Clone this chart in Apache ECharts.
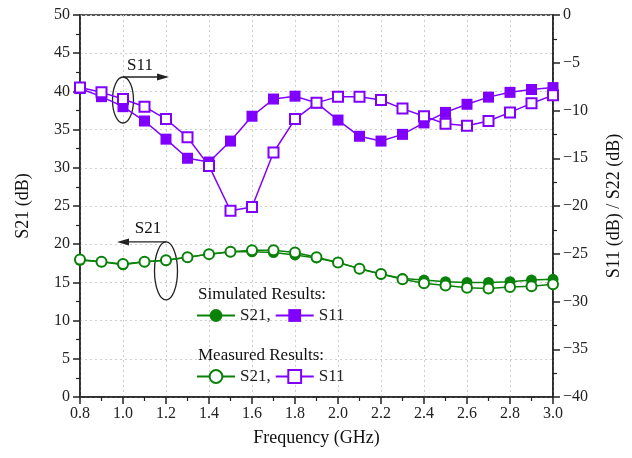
<!DOCTYPE html>
<html>
<head>
<meta charset="utf-8">
<script src="https://cdn.jsdelivr.net/npm/echarts@6/dist/echarts.min.js"></script>
<style>
  html, body { margin: 0; padding: 0; background: #fff; }
  #chart { width: 632px; height: 458px; }
</style>
</head>
<body>
<div id="chart"></div>
<script>
// frequency points (GHz)
const freq = [0.8, 0.9, 1.0, 1.1, 1.2, 1.3, 1.4, 1.5, 1.6, 1.7, 1.8, 1.9, 2.0, 2.1, 2.2, 2.3, 2.4, 2.5, 2.6, 2.7, 2.8, 2.9, 3.0];

// S21, left axis (dB)
const simS21 = [17.9, 17.7, 17.3, 17.7, 17.9, 18.3, 18.7, 19.0, 19.0, 18.9, 18.6, 18.2, 17.6, 16.8, 16.1, 15.5, 15.3, 15.1, 15.0, 15.0, 15.1, 15.3, 15.4];
const meaS21 = [18.0, 17.7, 17.4, 17.7, 17.9, 18.3, 18.7, 19.0, 19.2, 19.2, 18.9, 18.3, 17.6, 16.8, 16.1, 15.4, 14.9, 14.6, 14.3, 14.2, 14.4, 14.5, 14.75];

// S11, right axis (dB)
const simS11 = [-7.7, -8.55, -9.6, -11.1, -13.0, -15.0, -15.4, -13.2, -10.6, -8.8, -8.5, -9.2, -11.0, -12.7, -13.2, -12.5, -11.3, -10.2, -9.35, -8.6, -8.1, -7.8, -7.6];
const meaS11 = [-7.6, -8.1, -8.8, -9.6, -10.9, -12.8, -15.8, -20.5, -20.1, -14.4, -10.9, -9.2, -8.55, -8.55, -8.9, -9.8, -10.6, -11.4, -11.6, -11.1, -10.2, -9.25, -8.4];

const legendNames = { simS21: 'S21,', simS11: 'S11', meaS21: 'S21,', meaS11: 'S11' };

const GREEN = '#0a820a';
const PURPLE = '#8000ff';
const FONT = 'Liberation Serif';

const pairs = (ys) => freq.map((f, i) => [f, ys[i]]);

const axisLineStyle = { color: '#222', width: 1.5 };
const tickLabel = { color: '#222', fontSize: 16, fontFamily: FONT };
const axisName = { color: '#111', fontSize: 18, fontFamily: FONT };

const option = {
    animation: false,
    backgroundColor: '#fff',
    grid: {
        left: 80, right: 79, top: 15, bottom: 61,
        show: true, borderColor: '#222', borderWidth: 1.5
    },
    xAxis: {
        type: 'value', min: 0.8, max: 3.0, interval: 0.2,
        name: 'Frequency (GHz)', nameLocation: 'middle', nameGap: 32,
        nameTextStyle: axisName,
        axisLine: { lineStyle: axisLineStyle },
        axisTick: { length: 7, lineStyle: axisLineStyle },
        minorTick: { show: true, splitNumber: 2, length: 4, lineStyle: { color: '#222', width: 1.2 } },
        axisLabel: Object.assign({ margin: 9, formatter: (v) => v.toFixed(1) }, tickLabel),
        splitLine: { show: true, lineStyle: { color: '#cfcfcf', type: [2, 3], width: 1 } }
    },
    yAxis: [
        {
            type: 'value', min: 0, max: 50, interval: 5,
            name: 'S21 (dB)', nameLocation: 'middle', nameGap: 48, nameRotate: 90,
            nameTextStyle: axisName,
            axisLine: { show: true, lineStyle: axisLineStyle },
            axisTick: { show: true, length: 7, lineStyle: axisLineStyle },
            minorTick: { show: true, splitNumber: 2, length: 4, lineStyle: { color: '#222', width: 1.2 } },
            axisLabel: Object.assign({ margin: 10 }, tickLabel),
            splitLine: { show: true, lineStyle: { color: '#cfcfcf', type: [2, 3], width: 1 } }
        },
        {
            type: 'value', min: -40, max: 0, interval: 5, position: 'right',
            name: 'S11 (dB) / S22 (dB)', nameLocation: 'middle', nameGap: 52, nameRotate: 90,
            nameTextStyle: axisName,
            axisLine: { show: true, lineStyle: axisLineStyle },
            axisTick: { show: true, length: 7, lineStyle: axisLineStyle },
            minorTick: { show: true, splitNumber: 2, length: 4, lineStyle: { color: '#222', width: 1.2 } },
            axisLabel: Object.assign({ margin: 10, formatter: (v) => String(v).replace('-', '\u2212') }, tickLabel),
            splitLine: { show: false }
        }
    ],
    legend: [
        {
            data: ['simS21', 'simS11'], left: 196, top: 307, orient: 'horizontal',
            padding: 0, itemWidth: 38, itemHeight: 16, itemGap: 4,
            formatter: (n) => legendNames[n],
            textStyle: { color: '#222', fontSize: 17, fontFamily: FONT },
            selectedMode: false
        },
        {
            data: ['meaS21', 'meaS11'], left: 196, top: 368, orient: 'horizontal',
            padding: 0, itemWidth: 38, itemHeight: 16, itemGap: 4,
            formatter: (n) => legendNames[n],
            textStyle: { color: '#222', fontSize: 17, fontFamily: FONT },
            selectedMode: false
        }
    ],
    series: [
        {
            name: 'simS21', type: 'line', yAxisIndex: 0, data: pairs(simS21),
            symbol: 'circle', symbolSize: 11,
            lineStyle: { color: GREEN, width: 1.5 },
            itemStyle: { color: GREEN }
        },
        {
            name: 'simS11', type: 'line', yAxisIndex: 1, data: pairs(simS11),
            symbol: 'rect', symbolSize: 11,
            lineStyle: { color: PURPLE, width: 1.5 },
            itemStyle: { color: PURPLE }
        },
        {
            name: 'meaS21', type: 'line', yAxisIndex: 0, data: pairs(meaS21),
            symbol: 'circle', symbolSize: 10,
            lineStyle: { color: GREEN, width: 1.5 },
            itemStyle: { color: '#fff', borderColor: GREEN, borderWidth: 2 }
        },
        {
            name: 'meaS11', type: 'line', yAxisIndex: 1, data: pairs(meaS11),
            symbol: 'rect', symbolSize: 10,
            lineStyle: { color: PURPLE, width: 1.5 },
            itemStyle: { color: '#fff', borderColor: PURPLE, borderWidth: 2 }
        }
    ]
};

const chart = echarts.init(document.getElementById('chart'), null, { renderer: 'canvas' });
chart.setOption(option);

// annotations placed from data coordinates
const px = (x, y, axis) => chart.convertToPixel({ xAxisIndex: 0, yAxisIndex: axis }, [x, y]);
const s11c = px(1.0, -8.9, 1);
const s21c = px(1.2, 16.5, 0);
const textStyle = { fill: '#111', fontSize: 17, fontFamily: FONT };
const ink = { stroke: '#222', lineWidth: 1.3, fill: null };

const s11Top = s11c[1] - 23;
const s21Top = s21c[1] - 29;
chart.setOption({
    graphic: [
        { type: 'ellipse', shape: { cx: s11c[0], cy: s11c[1], rx: 10.5, ry: 23 }, style: ink },
        { type: 'line', shape: { x1: s11c[0], y1: s11Top, x2: s11c[0] + 38, y2: s11Top }, style: { stroke: '#222', lineWidth: 1.3 } },
        { type: 'polygon', shape: { points: [[s11c[0] + 46, s11Top], [s11c[0] + 34, s11Top - 3.5], [s11c[0] + 34, s11Top + 3.5]] }, style: { fill: '#222' } },
        { type: 'text', x: s11c[0] + 17, y: s11Top - 3, style: Object.assign({ text: 'S11', align: 'center', verticalAlign: 'bottom' }, textStyle) },

        { type: 'ellipse', shape: { cx: s21c[0], cy: s21c[1], rx: 11.5, ry: 29 }, style: ink },
        { type: 'line', shape: { x1: s21c[0], y1: s21Top, x2: s21c[0] - 41, y2: s21Top }, style: { stroke: '#222', lineWidth: 1.3 } },
        { type: 'polygon', shape: { points: [[s21c[0] - 49, s21Top], [s21c[0] - 37, s21Top - 3.5], [s21c[0] - 37, s21Top + 3.5]] }, style: { fill: '#222' } },
        { type: 'text', x: s21c[0] - 18, y: s21Top - 5, style: Object.assign({ text: 'S21', align: 'center', verticalAlign: 'bottom' }, textStyle) },

        { type: 'text', left: 198, top: 286, style: Object.assign({ text: 'Simulated Results:' }, textStyle) },
        { type: 'text', left: 198, top: 347, style: Object.assign({ text: 'Measured Results:' }, textStyle) }
    ]
});
</script>
</body>
</html>
